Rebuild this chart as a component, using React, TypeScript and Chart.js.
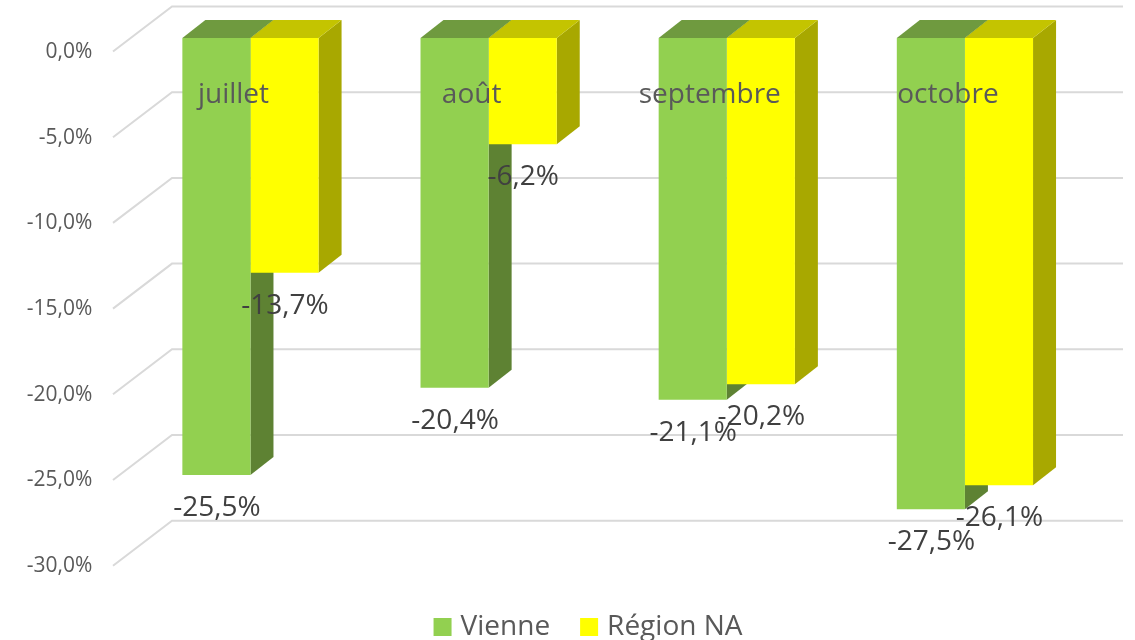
import React, { useEffect, useRef } from "react";
import { Chart, registerables } from "chart.js";

Chart.register(...registerables);

const categories = ["juillet", "août", "septembre", "octobre"];
const vienne = [-25.5, -20.4, -21.1, -27.5];
const regionNA = [-13.7, -6.2, -20.2, -26.1];

const FONT = "'Open Sans', sans-serif";
const fmt = (v: number) => v.toFixed(1).replace(".", ",") + "%";

const shades: Record<string, { side: string; top: string }> = {
  "#92d050": { side: "#5e8233", top: "#6f9a3f" },
  "#ffff00": { side: "#a8a800", top: "#c4c400" },
};

const DX = 23;
const DY = 18;

const wall = {
  id: "wall",
  beforeDatasetsDraw(chart: any) {
    const { ctx, scales } = chart;
    ctx.save();
    ctx.strokeStyle = "#d9d9d9";
    ctx.lineWidth = 2;
    scales.y.ticks.forEach((t: any) => {
      const y = scales.y.getPixelForValue(t.value);
      ctx.beginPath();
      ctx.moveTo(113, y + 13.5);
      ctx.lineTo(172, y - 31.5);
      ctx.lineTo(1123, y - 31.5);
      ctx.stroke();
    });
    ctx.restore();
  },
};

const depth = {
  id: "depth",
  beforeDatasetsDraw(chart: any) {
    const { ctx } = chart;
    ctx.save();
    categories.forEach((_, i) => {
      chart.data.datasets.forEach((ds: any, d: number) => {
        const bar = chart.getDatasetMeta(d).data[i];
        const { x, y, base, width } = bar.getProps(["x", "y", "base", "width"], true);
        const r = x + width / 2;
        const l = x - width / 2;
        const c = shades[ds.backgroundColor];
        ctx.fillStyle = c.side;
        ctx.beginPath();
        ctx.moveTo(r, base);
        ctx.lineTo(r + DX, base - DY);
        ctx.lineTo(r + DX, y - DY);
        ctx.lineTo(r, y);
        ctx.closePath();
        ctx.fill();
        ctx.fillStyle = c.top;
        ctx.beginPath();
        ctx.moveTo(l, base);
        ctx.lineTo(l + DX, base - DY);
        ctx.lineTo(r + DX, base - DY);
        ctx.lineTo(r, base);
        ctx.closePath();
        ctx.fill();
      });
    });
    ctx.restore();
  },
};

const valueLabels = {
  id: "valueLabels",
  afterDraw(chart: any) {
    const { ctx } = chart;
    ctx.save();
    ctx.font = `28px ${FONT}`;
    ctx.fillStyle = "#404040";
    ctx.textAlign = "center";
    ctx.textBaseline = "middle";
    chart.data.datasets.forEach((ds: any, d: number) => {
      chart.getDatasetMeta(d).data.forEach((bar: any, i: number) => {
        const { x, y } = bar.getProps(["x", "y"], true);
        ctx.fillText(fmt(ds.data[i]), x + 0.5, y + 33);
      });
    });
    ctx.restore();
  },
};

const legendPlace = {
  id: "legendPlace",
  afterLayout(chart: any) {
    const lg = chart.legend;
    lg.top = 578;
    lg.bottom = lg.top + lg.height;
    lg.left += 48.5;
    lg.right += 48.5;
  },
};

export default function App() {
  const ref = useRef<HTMLCanvasElement>(null);
  useEffect(() => {
    document.body.style.margin = "0";
    const chart = new Chart(ref.current as HTMLCanvasElement, {
      type: "bar",
      data: {
        labels: categories,
        datasets: [
          { label: "Vienne", data: vienne, backgroundColor: "#92d050" },
          { label: "Région NA", data: regionNA, backgroundColor: "#ffff00" },
        ],
      },
      plugins: [wall, depth, valueLabels, legendPlace],
      options: {
        animation: false,
        responsive: false,
        layout: { autoPadding: false, padding: { top: 38, right: 51, bottom: 14.8, left: 0 } },
        datasets: { bar: { barPercentage: 1, categoryPercentage: 0.572 } },
        scales: {
          x: {
            position: "top",
            afterFit: (s: any) => { s.height = 0; },
            grid: { display: false, drawTicks: false },
            border: { display: false },
            ticks: {
              color: "#595959",
              font: { family: FONT, size: 28 },
              mirror: true,
              padding: 40,
              labelOffset: -17,
              maxRotation: 0,
              z: 1,
            },
          },
          y: {
            min: -30,
            max: 0,
            afterFit: (s: any) => {
              s.width = 131.4;
              s.paddingTop = 0;
              s.paddingBottom = 0;
            },
            grid: { display: false, drawTicks: false },
            border: { display: false },
            ticks: {
              stepSize: 5,
              color: "#595959",
              font: { family: FONT, size: 21 },
              padding: 39,
              labelOffset: 14,
              callback: (v: any) => fmt(Number(v)),
            },
          },
        },
        plugins: {
          tooltip: { enabled: false },
          legend: {
            position: "bottom",
            labels: {
              boxWidth: 8,
              boxHeight: 8,
              padding: 35,
              color: "#595959",
              font: { family: FONT, size: 28 },
              generateLabels: (c: any) =>
                c.data.datasets.map((d: any, i: number) => ({
                  text: d.label,
                  fillStyle: d.backgroundColor,
                  strokeStyle: d.backgroundColor,
                  fontColor: "#595959",
                  lineWidth: 10,
                  datasetIndex: i,
                  hidden: false,
                })),
            },
          },
        },
      },
    } as any);
    return () => chart.destroy();
  }, []);
  return (
    <canvas
      ref={ref}
      width={1135}
      height={640}
      style={{ display: "block", position: "fixed", left: 0, top: 0 }}
    />
  );
}
